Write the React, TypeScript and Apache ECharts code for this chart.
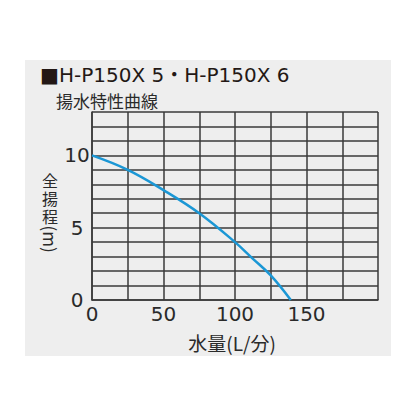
import React, { useEffect, useRef } from 'react';
import * as echarts from 'echarts';

// 揚水特性曲線 (flow L/min -> head m)
const flow = [0, 25, 50, 75, 100, 112, 125, 139];
const head = [10, 9, 7.6, 6, 4, 2.9, 1.7, 0];
const xTickLabels = [0, 50, 100, 150];
const yTickLabels = [0, 5, 10];

const titleText = '■H-P150X 5・H-P150X 6';
const subtitleText = '揚水特性曲線';
const xName = '水量(L/分)';
const yNameChars = ['全', '揚', '程'];
const yNameUnit = '(m)';

const FONT = '"Noto Sans CJK JP", "Noto Sans", sans-serif';
const NUM_FONT = '"DejaVu Sans", "Noto Sans CJK JP", sans-serif';
const INK = '#2a2a2a';
const GRID = '#3a3a3a';

const App = () => {
  const chartRef = useRef<HTMLDivElement>(null);

  useEffect(() => {
    if (!chartRef.current) return;
    const myChart = echarts.init(chartRef.current, undefined, { renderer: 'svg' });

    const option: echarts.EChartsOption = {
      animation: false,
      backgroundColor: '#ffffff',
      textStyle: { fontFamily: FONT },
      grid: { left: 92, right: 38, top: 112, bottom: 116 },
      graphic: [
        {
          type: 'rect',
          z: -10,
          shape: { x: 25, y: 60, width: 366, height: 296 },
          style: { fill: '#eeeeee' },
        },
        {
          type: 'text',
          x: 40,
          y: 75,
          style: {
            text: titleText,
            fontSize: 20,
            fontFamily: NUM_FONT,
            fill: '#231815',
            align: 'left',
            verticalAlign: 'middle',
          },
        },
        {
          type: 'text',
          x: 56,
          y: 100,
          style: {
            text: subtitleText,
            fontSize: 17,
            fontFamily: FONT,
            fill: INK,
            align: 'left',
            verticalAlign: 'middle',
          },
        },
        {
          type: 'text',
          x: 50,
          y: 198,
          style: {
            text: yNameChars.join('\n'),
            fontSize: 16,
            lineHeight: 17.7,
            fontFamily: FONT,
            fill: INK,
            align: 'center',
            verticalAlign: 'middle',
          },
        },
        {
          type: 'text',
          x: 50,
          y: 239,
          rotation: -Math.PI / 2,
          style: {
            text: yNameUnit,
            fontSize: 17,
            fontFamily: FONT,
            fill: INK,
            align: 'center',
            verticalAlign: 'middle',
          },
        },
        {
          type: 'text',
          x: 232,
          y: 342,
          style: {
            text: xName,
            fontSize: 19,
            fontFamily: FONT,
            fill: INK,
            align: 'center',
            verticalAlign: 'middle',
          },
        },
      ],
      xAxis: {
        type: 'value',
        min: 0,
        max: 200,
        interval: 25,
        axisLine: { show: true, lineStyle: { color: GRID, width: 1.5 } },
        axisTick: { show: false },
        splitLine: { show: true, lineStyle: { color: GRID, width: 1.5 } },
        axisLabel: {
          color: INK,
          fontSize: 20,
          fontFamily: NUM_FONT,
          margin: 4,
          formatter: (v: number) => (xTickLabels.includes(v) ? String(v) : ''),
        },
      },
      yAxis: {
        type: 'value',
        min: 0,
        max: 13,
        interval: 1,
        axisLine: { show: true, lineStyle: { color: GRID, width: 1.5 } },
        axisTick: { show: false },
        splitLine: { show: true, lineStyle: { color: GRID, width: 1.5 } },
        axisLabel: {
          color: INK,
          fontSize: 20,
          fontFamily: NUM_FONT,
          margin: 15,
          align: 'center',
          formatter: (v: number) => (yTickLabels.includes(v) ? String(v) : ''),
        },
      },
      series: [
        {
          type: 'line',
          data: flow.map((f, i) => [f, head[i]]),
          smooth: 0.4,
          showSymbol: false,
          symbol: 'none',
          lineStyle: { color: '#1b97d5', width: 2.5 },
          z: 5,
        },
      ],
    };

    myChart.setOption(option);

    return () => {
      myChart.dispose();
    };
  }, []);

  return (
    <div
      ref={chartRef}
      style={{ position: 'absolute', left: 0, top: 0, width: '416px', height: '416px' }}
    />
  );
};

export default App;
